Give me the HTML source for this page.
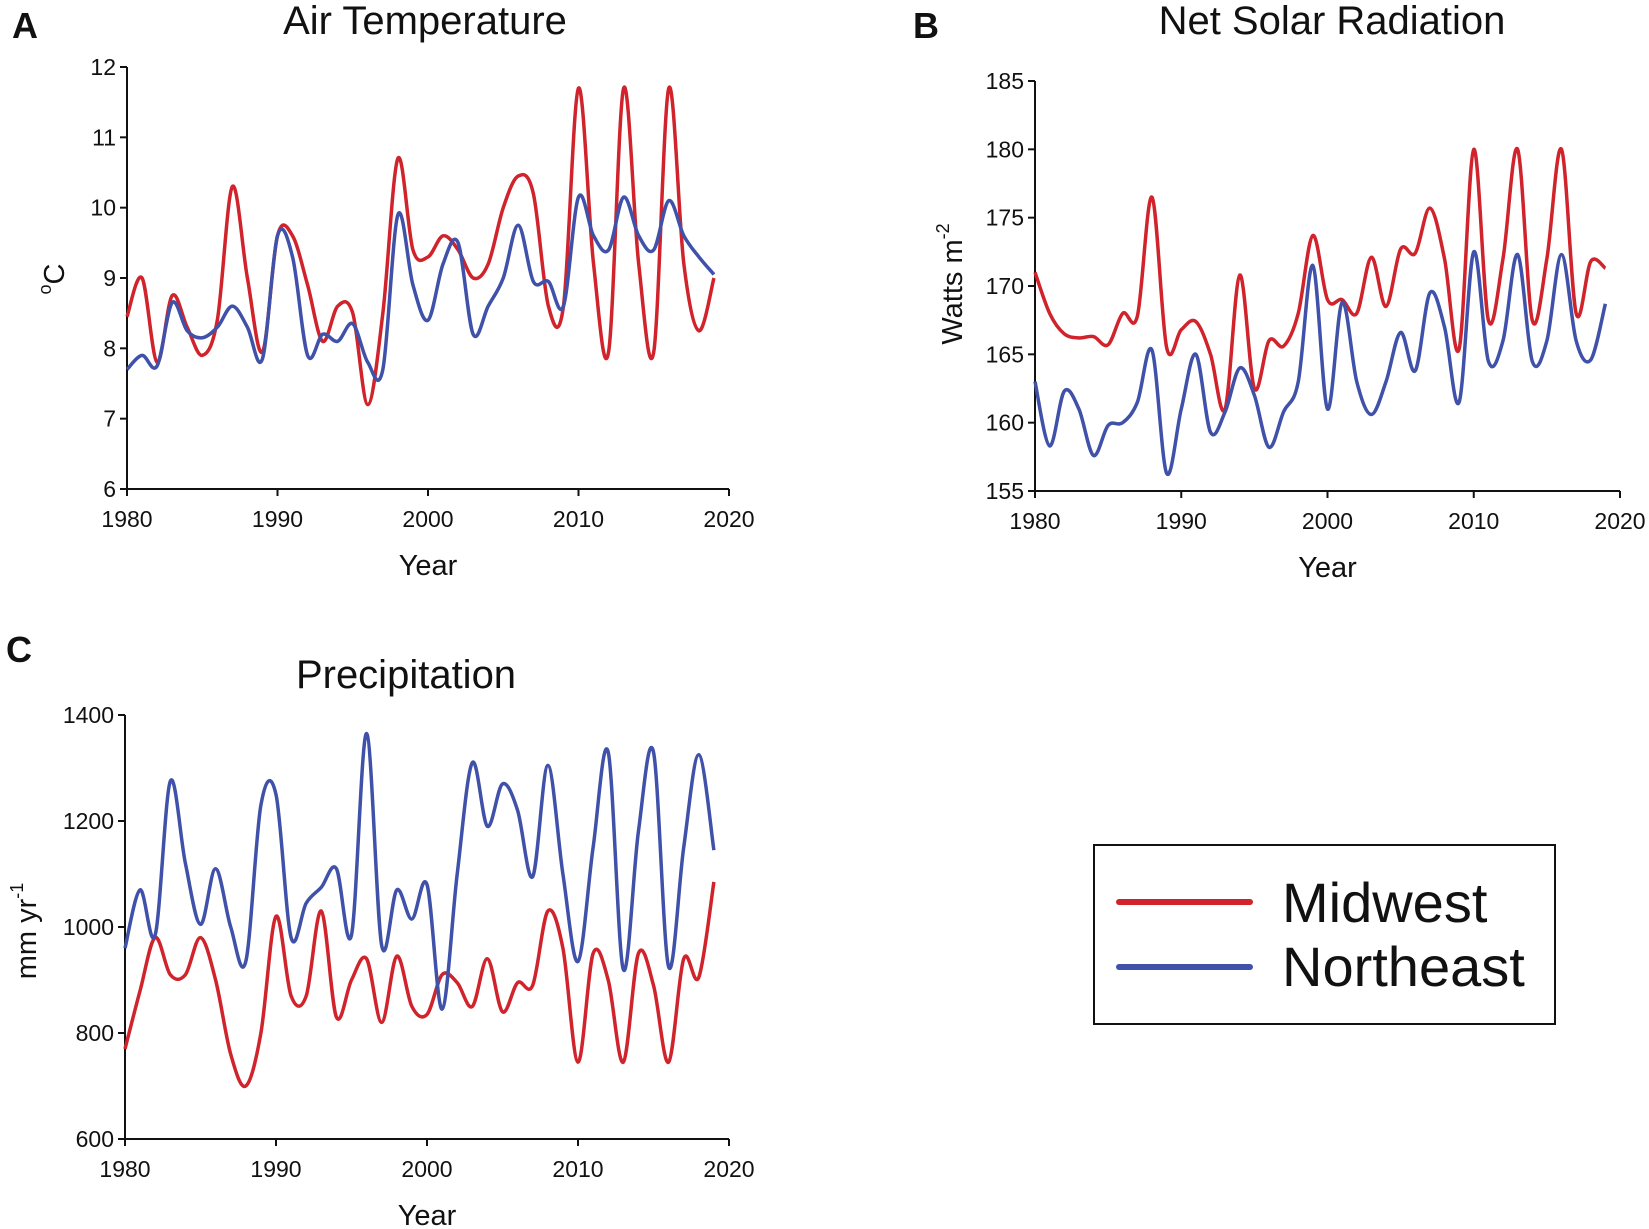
<!DOCTYPE html>
<html><head><meta charset="utf-8"><style>
html,body{margin:0;padding:0;background:#fff;}
svg{display:block;font-family:"Liberation Sans",Arial,sans-serif;}
</style></head><body>
<svg id="fig" width="1649" height="1229" viewBox="0 0 1649 1229" xmlns="http://www.w3.org/2000/svg">
<g id="legend">
<rect x="1094" y="845" width="461" height="179" fill="none" stroke="#111" stroke-width="2"/>
<line x1="1119" y1="902" x2="1250" y2="902" stroke="#d0232b" stroke-width="6" stroke-linecap="round"/>
<line x1="1119" y1="967" x2="1250" y2="967" stroke="#3f51a8" stroke-width="6" stroke-linecap="round"/>
<text x="1282" y="922" font-size="56" fill="#111">Midwest</text>
<text x="1282" y="986" font-size="56" fill="#111">Northeast</text>
</g>
</svg>
<script>
const years = [];
for (let y = 1980; y <= 2019; y++) years.push(y);

const tempMidwest = [8.45,9.0,7.8,8.75,8.3,7.9,8.4,10.3,9.0,7.95,9.6,9.6,8.9,8.1,8.6,8.5,7.2,8.5,10.7,9.4,9.3,9.6,9.4,9.0,9.2,10.0,10.45,10.2,8.6,8.6,11.7,9.2,7.95,11.7,9.2,7.95,11.7,9.2,8.25,9.0];
const tempNortheast = [7.7,7.9,7.75,8.65,8.25,8.15,8.3,8.6,8.3,7.85,9.6,9.3,7.9,8.2,8.1,8.35,7.8,7.7,9.9,8.9,8.4,9.2,9.5,8.2,8.6,9.0,9.75,8.95,8.95,8.6,10.15,9.6,9.4,10.15,9.6,9.4,10.1,9.6,9.3,9.05];
const solarMidwest = [171,168,166.5,166.2,166.3,165.7,168,167.8,176.5,165.5,166.8,167.4,165,161,170.8,162.5,166,165.6,168,173.7,169,169,168,172.1,168.5,172.7,172.4,175.7,172,165.4,180,167.5,172,180,167.5,172,180,168,171.8,171.3];
const solarNortheast = [163,158.3,162.3,161,157.6,159.8,160,161.5,165.3,156.3,161,165,159.3,160.8,164,162,158.2,160.8,163,171.5,161,168.8,163,160.6,163,166.6,163.8,169.5,167,161.5,172.5,164.5,166,172.3,164.5,166,172.3,166,164.6,168.7];
const precipMidwest = [770,880,980,910,910,980,900,760,700,800,1020,870,870,1030,830,900,940,820,945,850,835,910,895,850,940,840,895,890,1030,960,745,950,900,745,950,890,745,940,905,1085];
const precipNortheast = [960,1070,985,1275,1120,1005,1110,1000,935,1230,1250,980,1045,1075,1110,985,1365,965,1070,1015,1080,845,1100,1310,1190,1270,1220,1095,1305,1100,935,1150,1330,920,1180,1330,925,1150,1325,1145];

const xTicks = [1980,1990,2000,2010,2020];
const tempTicks = [6,7,8,9,10,11,12];
const solarTicks = [155,160,165,170,175,180,185];
const precipTicks = [600,800,1000,1200,1400];

const NS = "http://www.w3.org/2000/svg";
const svg = document.getElementById("fig");
function el(tag, attrs, parent) {
  const e = document.createElementNS(NS, tag);
  for (const k in attrs) e.setAttribute(k, attrs[k]);
  (parent || svg).appendChild(e);
  return e;
}
function spline(pts) {
  let d = "M" + pts[0][0].toFixed(2) + "," + pts[0][1].toFixed(2);
  for (let i = 0; i < pts.length - 1; i++) {
    const p0 = pts[Math.max(0, i - 1)], p1 = pts[i], p2 = pts[i + 1], p3 = pts[Math.min(pts.length - 1, i + 2)];
    const c1x = p1[0] + (p2[0] - p0[0]) / 6, c1y = p1[1] + (p2[1] - p0[1]) / 6;
    const c2x = p2[0] - (p3[0] - p1[0]) / 6, c2y = p2[1] - (p3[1] - p1[1]) / 6;
    d += " C" + c1x.toFixed(2) + "," + c1y.toFixed(2) + " " + c2x.toFixed(2) + "," + c2y.toFixed(2) + " " + p2[0].toFixed(2) + "," + p2[1].toFixed(2);
  }
  return d;
}
function panel(cfg) {
  const g = el("g", {});
  
  
  const xs = v => cfg.x0 + (v - 1980) / 40 * (cfg.x1 - cfg.x0);
  const ys = v => cfg.y1 + (v - cfg.ticks[0]) / (cfg.ticks[cfg.ticks.length - 1] - cfg.ticks[0]) * (cfg.y0 - cfg.y1);
  const lt = el("text", {x: cfg.letterX, y: cfg.letterY, "font-size": 36, "font-weight": "bold", fill: "#111"}, g);
  lt.textContent = cfg.letter;
  
  
  const tt = el("text", {x: cfg.titleX, y: cfg.titleY, "font-size": 40, "text-anchor": "middle", fill: "#111"}, g);
  tt.textContent = cfg.title;
  
  
  const ax = el("path", {d: "M" + cfg.x0 + "," + cfg.y0 + " V" + cfg.y1 + " H" + cfg.x1, fill: "none", stroke: "#111", "stroke-width": 2}, g);
  
  
  cfg.ticks.forEach(t => {
    const y = ys(t);
    el("line", {x1: cfg.x0 - 7, y1: y, x2: cfg.x0, y2: y, stroke: "#111", "stroke-width": 2}, g);
    const tx = el("text", {x: cfg.x0 - 11, y: y + 8, "font-size": 23, "text-anchor": "end", fill: "#111"}, g);
    tx.textContent = t;
    
    
  });
  xTicks.forEach(t => {
    const x = xs(t);
    el("line", {x1: x, y1: cfg.y1, x2: x, y2: cfg.y1 + 7, stroke: "#111", "stroke-width": 2}, g);
    const tx = el("text", {x: x, y: cfg.y1 + 38, "font-size": 23, "text-anchor": "middle", fill: "#111"}, g);
    tx.textContent = t;
    
    
  });
  const xt = el("text", {x: (cfg.x0 + cfg.x1) / 2, y: cfg.y1 + 86, "font-size": 29, "text-anchor": "middle", fill: "#111"}, g);
  xt.textContent = "Year";
  
  
  const yt = el("text", {x: 0, y: 0, "font-size": 29, "text-anchor": "middle", fill: "#111", transform: "translate(" + cfg.ytX + "," + cfg.ytY + ") rotate(-90)"}, g);
  yt.innerHTML = cfg.ytitle;
  
  
  cfg.series.forEach(s => {
    const p = el("path", {d: spline(years.map((yr, i) => [xs(yr), ys(s.data[i])])), fill: "none", stroke: s.color, "stroke-width": 3.5, "stroke-linejoin": "round"}, g);
    
    
  });
}
const RED = "#d0232b", BLUE = "#3f51a8";
panel({name: "air-temperature-panel", letter: "A", letterX: 12, letterY: 38, title: "Air Temperature", titleX: 425, titleY: 34,
  x0: 127, x1: 729, y0: 67, y1: 489, ticks: tempTicks, ytX: 64, ytY: 279,
  ytitle: '<tspan font-size="18" dy="-13">o</tspan><tspan dy="13">C</tspan>',
  series: [{name: "air-temp-midwest-line", data: tempMidwest, color: RED}, {name: "air-temp-northeast-line", data: tempNortheast, color: BLUE}]});
panel({name: "net-solar-radiation-panel", letter: "B", letterX: 913, letterY: 38, title: "Net Solar Radiation", titleX: 1332, titleY: 34,
  x0: 1035, x1: 1620, y0: 81, y1: 491, ticks: solarTicks, ytX: 962, ytY: 284,
  ytitle: 'Watts m<tspan font-size="18" dy="-13">-2</tspan>',
  series: [{name: "solar-midwest-line", data: solarMidwest, color: RED}, {name: "solar-northeast-line", data: solarNortheast, color: BLUE}]});
panel({name: "precipitation-panel", letter: "C", letterX: 6, letterY: 662, title: "Precipitation", titleX: 406, titleY: 688,
  x0: 125, x1: 729, y0: 715, y1: 1139, ticks: precipTicks, ytX: 36, ytY: 931,
  ytitle: 'mm yr<tspan font-size="18" dy="-13">-1</tspan>',
  series: [{name: "precip-midwest-line", data: precipMidwest, color: RED}, {name: "precip-northeast-line", data: precipNortheast, color: BLUE}]});
</script>
</body></html>
